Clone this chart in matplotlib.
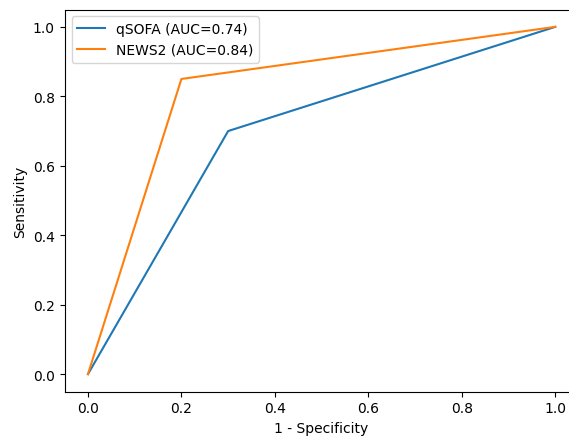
import matplotlib
matplotlib.use("Agg")
import matplotlib.pyplot as plt

qsofa_fpr = [0.0, 0.3, 1.0]
qsofa_tpr = [0.0, 0.7, 1.0]
news2_fpr = [0.0, 0.2, 1.0]
news2_tpr = [0.0, 0.85, 1.0]
labels = ["qSOFA (AUC=0.74)", "NEWS2 (AUC=0.84)"]

fig = plt.figure(figsize=(5.69, 4.39), dpi=100)
ax = fig.add_axes([64.6 / 569, (439 - 392.5) / 439, 514 / 569, 382 / 439])
ax.plot(qsofa_fpr, qsofa_tpr, label=labels[0])
ax.plot(news2_fpr, news2_tpr, label=labels[1])
ax.set_xlabel("1 - Specificity")
ax.set_ylabel("Sensitivity")
ax.legend(loc="upper left")
fig.savefig("out.png", dpi=100)
